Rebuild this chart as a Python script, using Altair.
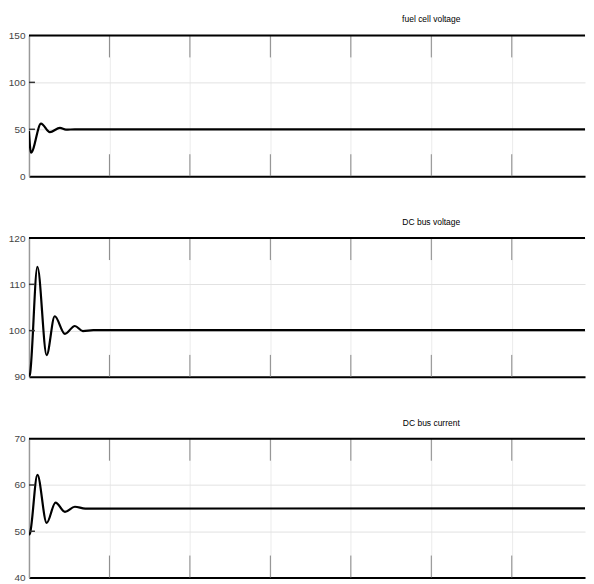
import altair as alt
import pandas as pd

# ---- data ----
x_ticks = [1, 2, 3, 4, 5, 6]
x_domain = [0, 6.91]

titles = ["fuel cell voltage", "DC bus voltage", "DC bus current"]

t1 = [0, 0.025, 0.15, 0.26, 0.385, 0.46, 0.57, 10]
v1 = [48, 25, 56, 47, 51.5, 49.6, 50, 50]
y1_ticks = [0, 50, 100, 150]

t2 = [0, 0.012, 0.105, 0.22, 0.32, 0.447, 0.57, 0.67, 0.8, 10]
v2 = [90, 90.5, 113.8, 94.7, 103.1, 99.3, 101, 99.9, 100.1, 100.1]
y2_ticks = [90, 100, 110, 120]

t3 = [0, 0.012, 0.105, 0.22, 0.33, 0.447, 0.57, 0.7, 10]
v3 = [49.2, 49.5, 62.2, 51.8, 56.2, 54.2, 55.3, 54.9, 55]
y3_ticks = [40, 50, 60, 70]

W = 557
FONT = "Liberation Sans, Arial"


def panel(t, v, yvals, title, h):
    df = pd.DataFrame({"t": t, "v": v})
    xs = alt.Scale(domain=x_domain, nice=False, zero=False)
    ys = alt.Scale(domain=[yvals[0], yvals[-1]], nice=False, zero=False)
    xa = alt.Axis(values=x_ticks, grid=True, gridColor="#ebebeb", labels=False,
                  ticks=False, tickSize=0, domainColor="black", domainWidth=2, title=None)
    ya = alt.Axis(values=yvals, grid=True, gridColor="#e2e2e2", ticks=False, tickSize=0,
                  labelPadding=4, domainColor="#999999", domainWidth=1.5, title=None,
                  labelFont=FONT, labelFontSize=10, labelColor="#444444")

    line = alt.Chart(df).mark_line(
        color="black", strokeWidth=2.2, clip=True, interpolate="monotone"
    ).encode(
        x=alt.X("t:Q", scale=xs, axis=xa),
        y=alt.Y("v:Q", scale=ys, axis=ya),
    )

    tick_df = pd.DataFrame({"t": x_ticks})
    top_ticks = alt.Chart(tick_df).mark_rule(color="#888888", strokeWidth=1).encode(
        x=alt.X("t:Q", scale=xs, axis=xa), y=alt.value(0), y2=alt.value(22))
    bot_ticks = alt.Chart(tick_df).mark_rule(color="#888888", strokeWidth=1).encode(
        x=alt.X("t:Q", scale=xs, axis=xa), y=alt.value(h - 22), y2=alt.value(h))

    ytick_df = pd.DataFrame({"v": yvals[1:-1]})
    y_ticks = alt.Chart(ytick_df).mark_rule(color="#333333", strokeWidth=1.5).encode(
        y=alt.Y("v:Q", scale=ys, axis=ya), x=alt.value(0), x2=alt.value(6))

    top_border = alt.Chart(pd.DataFrame({"a": [0]})).mark_rule(
        color="black", strokeWidth=2).encode(
        y=alt.value(0), x=alt.value(0), x2=alt.value(W))

    title_df = pd.DataFrame({"t": [5], "label": [title]})
    title_txt = alt.Chart(title_df).mark_text(
        font=FONT, fontSize=8.5, baseline="middle", color="#000000"
    ).encode(x=alt.X("t:Q", scale=xs, axis=xa), y=alt.value(-16), text="label:N")

    return alt.layer(line, top_ticks, bot_ticks, y_ticks, top_border, title_txt).properties(
        width=W, height=h)


p1 = panel(t1, v1, y1_ticks, titles[0], 141)
p2 = panel(t2, v2, y2_ticks, titles[1], 139)
p3 = panel(t3, v3, y3_ticks, titles[2], 139)

chart = alt.vconcat(p1, p2, p3, spacing=37).properties(
    padding={"left": 0, "top": 7, "right": 0, "bottom": 0}
).configure_view(stroke=None)

chart.save("out.html", embed_options={"renderer": "svg", "actions": False})
